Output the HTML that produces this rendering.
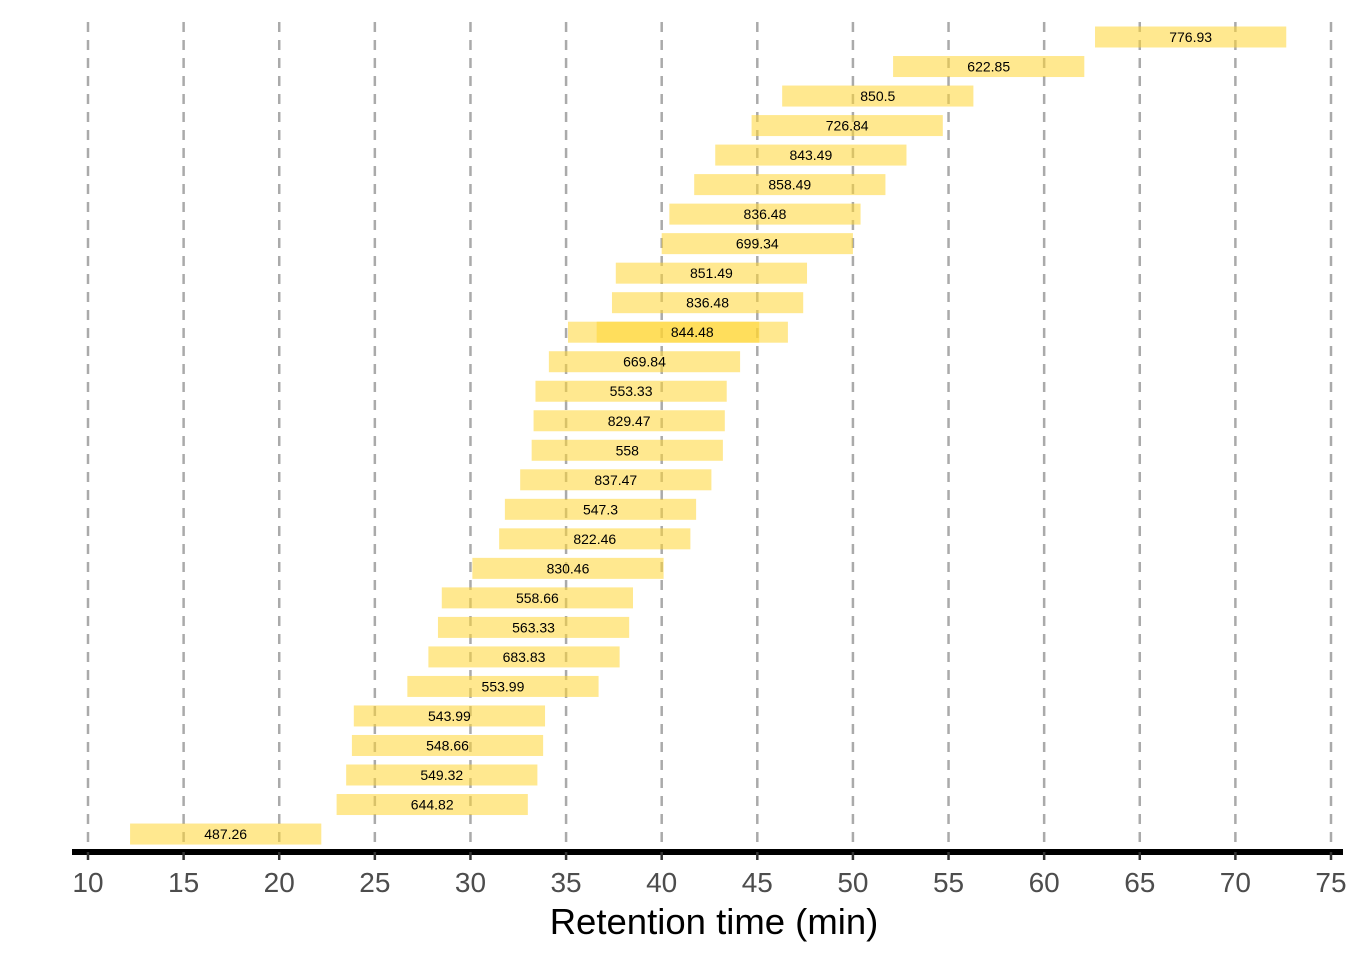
<!DOCTYPE html>
<html><head><meta charset="utf-8"><style>body{margin:0;background:#fff}svg{display:block;font-family:"Liberation Sans",sans-serif}</style></head>
<body>
<svg id="chart" width="1363" height="960" viewBox="0 0 1363 960"></svg>
<script>
const starts=[62.66,52.1,46.3,44.7,42.8,41.7,40.4,40.0,37.6,37.4,35.1,34.1,33.4,33.3,33.2,32.6,31.8,31.5,30.1,28.5,28.3,27.8,26.7,23.9,23.8,23.5,23.0,12.2];
const labels=["776.93","622.85","850.5","726.84","843.49","858.49","836.48","699.34","851.49","836.48","844.48","669.84","553.33","829.47","558","837.47","547.3","822.46","830.46","558.66","563.33","683.83","553.99","543.99","548.66","549.32","644.82","487.26"];
const extraStarts=[36.6];
const extraRows=[10];
const ticks=[10,15,20,25,30,35,40,45,50,55,60,65,70,75];
const width=10;
const NS="http://www.w3.org/2000/svg";
const svg=document.getElementById('chart');
const x=v=>88+(v-10)*(1243/65);
const y=i=>37+i*29.52;
function mk(t,a){const e=document.createElementNS(NS,t);for(const k in a)e.setAttribute(k,a[k]);svg.appendChild(e);return e;}
ticks.forEach(t=>{
  const g=mk('line',{x1:x(t),x2:x(t),y1:22,y2:850,stroke:'#aaa','stroke-width':2.5,'stroke-dasharray':'10 8'});
  
  
});
function bar(s,i,name){
  const r=mk('rect',{x:x(s),y:y(i)-10.5,width:x(s+width)-x(s),height:21,fill:'#FFD633','fill-opacity':0.55});
  
  
}
starts.forEach((s,i)=>bar(s,i,'bar-'+i));
extraStarts.forEach((s,k)=>bar(s,extraRows[k],'bar-overlap-'+k));
starts.forEach((s,i)=>{
  let c=s+width/2;
  extraRows.forEach((r,k)=>{if(r===i)c=extraStarts[k]+width/2;});
  const t=mk('text',{x:x(c),y:y(i)+5,'font-size':14,'text-anchor':'middle',fill:'#000'});
  t.textContent=labels[i];
  
  
});
const ax=mk('line',{x1:72,x2:1343,y1:852,y2:852,stroke:'#000','stroke-width':6});


ticks.forEach(t=>{
  const tk=mk('line',{x1:x(t),x2:x(t),y1:852,y2:860,stroke:'#333','stroke-width':2.5});
  
  
  const l=mk('text',{x:x(t),y:892,'font-size':28,'text-anchor':'middle',fill:'#4d4d4d'});
  l.textContent=t;
  
  
});
const ti=mk('text',{x:714,y:934,'font-size':36.5,'text-anchor':'middle',fill:'#000'});
ti.textContent='Retention time (min)';


</script>
</body></html>
